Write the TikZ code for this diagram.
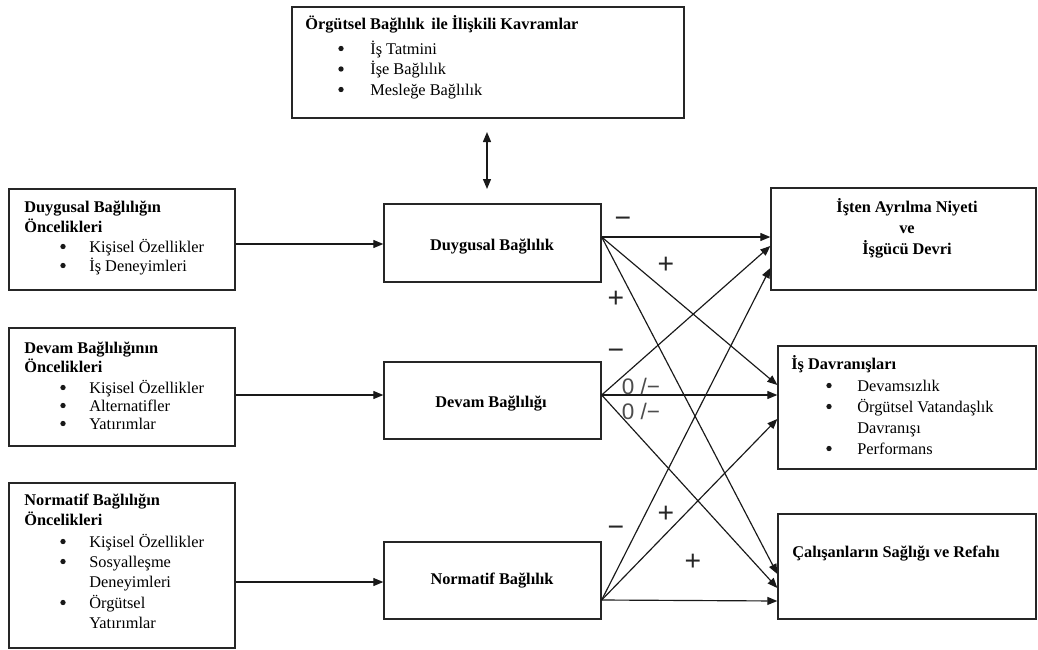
\documentclass[tikz,border=0pt]{standalone}
\usepackage{fontspec}
\setmainfont{Liberation Serif}
\newfontfamily\signfont{Liberation Sans}
\usetikzlibrary{arrows.meta,fit}
\begin{document}
\begin{tikzpicture}[x=0.6pt,y=-0.6pt,
  box/.style={draw=black!85, line width=0.8pt, inner sep=0pt},
  arr/.style={-{Triangle[length=6pt,width=4.8pt]}, line width=0.7pt, draw=black!90},
  darr/.style={{Triangle[length=6pt,width=4.8pt]}-{Triangle[length=6pt,width=4.8pt]}, line width=0.8pt, draw=black!90},
  txt/.style={anchor=base west, inner sep=0pt, font=\fontsize{9.8pt}{12pt}\selectfont},
  hd/.style={anchor=base west, inner sep=0pt, font=\fontsize{9.8pt}{12pt}\selectfont\bfseries},
  ctr/.style={anchor=base, inner sep=0pt, font=\fontsize{9.8pt}{12pt}\selectfont\bfseries},
  bul/.style={circle, fill=black!90, inner sep=0pt, minimum size=3.2pt},
  sign/.style={inner sep=0pt, font=\signfont\fontsize{17pt}{19pt}\selectfont, text=black!85},
  zsign/.style={inner sep=0pt, font=\signfont\fontsize{13.5pt}{15pt}\selectfont, text=black!70}
]
\useasboundingbox (0,0) rectangle (1038,649);

% boxes
\node[box, fit={(292,7)(684,118)}] (Top) {};
\node[box, fit={(9,189)(235,290)}] (L1) {};
\node[box, fit={(9,328)(235,446)}] (L2) {};
\node[box, fit={(9,483)(235,648)}] (L3) {};
\node[box, fit={(384,204)(601,282)}] (Duy) {};
\node[box, fit={(384,362)(601,439)}] (Dev) {};
\node[box, fit={(384,542)(601,619)}] (Nor) {};
\node[box, fit={(771,188)(1036,290)}] (R1) {};
\node[box, fit={(778,346)(1036,469)}] (R2) {};
\node[box, fit={(778,514)(1036,619)}] (R3) {};

% top box text
\node[hd] (tH) at (305,29.5) {Örgütsel Bağlılık\, ile İlişkili Kavramlar};
\node[bul] (tb1) at (341,48.5) {};
\node[bul] (tb2) at (341,69) {};
\node[bul] (tb3) at (341,89.5) {};
\node[txt] (t1) at (370,54) {İş Tatmini};
\node[txt] (t2) at (370,74.5) {İşe Bağlılık};
\node[txt] (t3) at (370,95) {Mesleğe Bağlılık};

% L1
\node[hd] (a1) at (24,212) {Duygusal Bağlılığın};
\node[hd] (a2) at (24,232) {Öncelikleri};
\node[bul] (ab1) at (63,246.5) {};
\node[bul] (ab2) at (63,265.5) {};
\node[txt] (a3) at (89,252) {Kişisel Özellikler};
\node[txt] (a4) at (89,271) {İş Deneyimleri};

% L2
\node[hd] (b1) at (24,353) {Devam Bağlılığının};
\node[hd] (b2) at (24,372) {Öncelikleri};
\node[bul] (bb1) at (63,387.5) {};
\node[bul] (bb2) at (63,405.5) {};
\node[bul] (bb3) at (63,423.5) {};
\node[txt] (b3) at (89,393) {Kişisel Özellikler};
\node[txt] (b4) at (89,411) {Alternatifler};
\node[txt] (b5) at (89,429) {Yatırımlar};

% L3
\node[hd] (c1) at (24,505) {Normatif Bağlılığın};
\node[hd] (c2) at (24,525) {Öncelikleri};
\node[bul] (cb1) at (63,541.5) {};
\node[bul] (cb2) at (63,561.5) {};
\node[bul] (cb3) at (63,602.5) {};
\node[txt] (c3) at (89,547) {Kişisel Özellikler};
\node[txt] (c4) at (89,567) {Sosyalleşme};
\node[txt] (c5) at (89,587) {Deneyimleri};
\node[txt] (c6) at (89,608) {Örgütsel};
\node[txt] (c7) at (89,628) {Yatırımlar};

% middle texts
\node[ctr] (m1) at (492,250) {Duygusal Bağlılık};
\node[ctr] (m2) at (491,407) {Devam Bağlılığı};
\node[ctr] (m3) at (492,584) {Normatif Bağlılık};

% R1
\node[ctr] (r1a) at (907,212) {İşten Ayrılma Niyeti};
\node[ctr] (r1b) at (907,233) {ve};
\node[ctr] (r1c) at (907,254) {İşgücü Devri};

% R2
\node[hd] (r2h) at (791,369) {İş Davranışları};
\node[bul] (rb1) at (829,385.5) {};
\node[bul] (rb2) at (829,406.5) {};
\node[bul] (rb3) at (829,448.5) {};
\node[txt] (r2a) at (857,391) {Devamsızlık};
\node[txt] (r2b) at (857,412) {Örgütsel Vatandaşlık};
\node[txt] (r2c) at (857,433) {Davranışı};
\node[txt] (r2d) at (857,454) {Performans};

% R3
\node[hd] (r3h) at (792,557) {Çalışanların Sağlığı ve Refahı};

% double arrow
\coordinate (u1) at (487,132);
\coordinate (u2) at (487,189);
\draw[darr] (u1) -- (u2);

% left to middle
\draw[arr] (L1.east |- 0,244) -- (Duy.west |- 0,244);
\draw[arr] (L2.east |- 0,395) -- (Dev.west |- 0,395);
\draw[arr] (L3.east |- 0,582) -- (Nor.west |- 0,582);

% origins
\coordinate (dO) at (Duy.east |- 0,237);
\coordinate (vO) at (Dev.east |- 0,395);
\coordinate (nO) at (Nor.east |- 0,600);

\draw[arr] (dO) -- (R1.west |- 0,237);
\draw[arr] (dO) -- (R2.west |- 0,385);
\draw[arr] (dO) -- (R3.west |- 0,574);
\draw[arr] (vO) -- (R1.west |- 0,246);
\draw[arr] (vO) -- (R2.west |- 0,395);
\draw[arr] (vO) -- (R3.west |- 0,588);
\draw[arr] (nO) -- (R1.west |- 0,268);
\draw[arr] (nO) -- (R2.west |- 0,419);
\draw[arr] (nO) -- (R3.west |- 0,601);

% signs
\node[sign] (s1) at (623,222) {\char"2212};
\node[sign] (s2) at (666,265) {+};
\node[sign] (s3) at (616,299) {+};
\node[sign] (s4) at (616,354) {\char"2212};
\node[zsign] (s5) at (641,386) {0 /\char"2212};
\node[zsign] (s6) at (641,411) {0 /\char"2212};
\node[sign] (s7) at (616,531) {\char"2212};
\node[sign] (s8) at (666,514) {+};
\node[sign] (s9) at (693,562) {+};
\end{tikzpicture}
\end{document}
